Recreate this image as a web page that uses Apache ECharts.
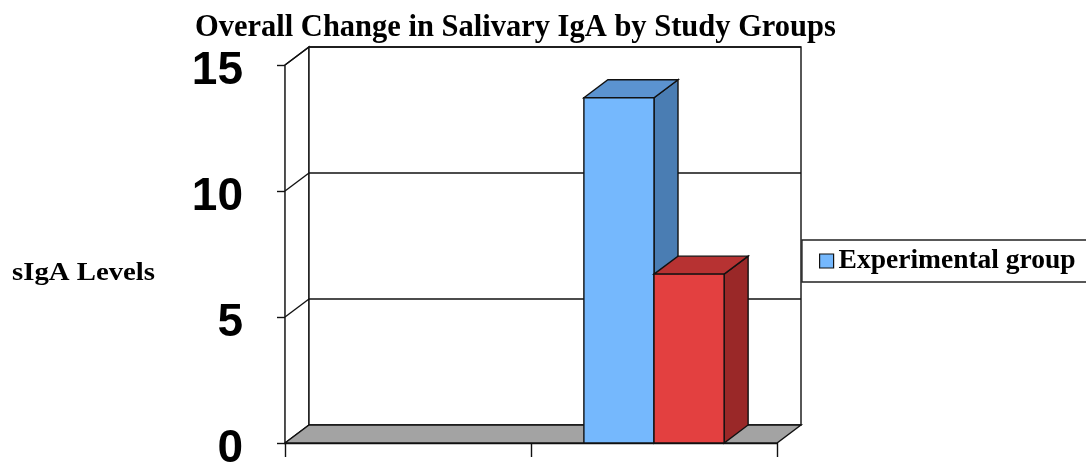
<!DOCTYPE html>
<html lang="en">
<head>
<meta charset="utf-8">
<title>Overall Change in Salivary IgA by Study Groups</title>
<script src="https://cdn.jsdelivr.net/npm/echarts@6/dist/echarts.min.js"></script>
<style>
    html, body { margin: 0; padding: 0; background: #fff; }
    #main { width: 1086px; height: 463px; }
</style>
</head>
<body>
<div id="main"></div>
<script>
// chart data
var categories = ['', ''];
var experimental = [null, 13.7];
var control = [null, 6.7];
var yTicks = [0, 5, 10, 15];

// depth of the fake 3d box (px)
var DX = 24, DY = -18;
var BAR_RATIO = 0.285;

var myChart = echarts.init(document.getElementById('main'));

// walls, floor and back gridlines
function renderFrame(params, api) {
    var cs = params.coordSys;
    var x0 = cs.x, x1 = cs.x + cs.width, yb = cs.y + cs.height;
    var line = { stroke: '#111', lineWidth: 1.4 };
    var kids = [];
    var top = api.coord([0, yTicks[yTicks.length - 1]])[1];
    // left wall
    kids.push({ type: 'polygon', shape: { points: [[x0, top], [x0 + DX, top + DY], [x0 + DX, yb + DY], [x0, yb]] },
        style: { fill: '#fff', stroke: '#111', lineWidth: 1.4 } });
    // back wall
    kids.push({ type: 'rect', shape: { x: x0 + DX, y: top + DY, width: x1 - x0, height: yb - top },
        style: { fill: '#fff', stroke: '#111', lineWidth: 1.4 } });
    yTicks.forEach(function (t) {
        if (t === 0) return;
        var y = api.coord([0, t])[1];
        kids.push({ type: 'line', shape: { x1: x0, y1: y, x2: x0 + DX, y2: y + DY }, style: line });
        kids.push({ type: 'line', shape: { x1: x0 + DX, y1: y + DY, x2: x1 + DX, y2: y + DY }, style: line });
    });
    // floor
    kids.push({ type: 'polygon', shape: { points: [[x0, yb], [x1, yb], [x1 + DX, yb + DY], [x0 + DX, yb + DY]] },
        style: { fill: '#a3a3a3', stroke: '#111', lineWidth: 1.4 } });
    return { type: 'group', children: kids };
}

// 3d column: front face, top, right side
function makeBar(offset, front, topC, side) {
    return function (params, api) {
        var v = api.value(1);
        if (v == null || isNaN(v)) return null;
        var c = api.coord([api.value(0), v]);
        var base = api.coord([api.value(0), 0]);
        var w = api.size([1, 0])[0] * BAR_RATIO;
        var xa = c[0] + offset * w, xb = xa + w;
        var yt = c[1], yb = base[1];
        var st = { stroke: '#111', lineWidth: 1.4 };
        return {
            type: 'group',
            children: [
                { type: 'polygon', shape: { points: [[xb, yt], [xb + DX, yt + DY], [xb + DX, yb + DY], [xb, yb]] },
                    style: echarts.util.extend({ fill: side }, st) },
                { type: 'polygon', shape: { points: [[xa, yt], [xb, yt], [xb + DX, yt + DY], [xa + DX, yt + DY]] },
                    style: echarts.util.extend({ fill: topC }, st) },
                { type: 'rect', shape: { x: xa, y: yt, width: w, height: yb - yt },
                    style: echarts.util.extend({ fill: front }, st) }
            ]
        };
    };
}

var option = {
    animation: false,
    title: {
        text: 'Overall Change in Salivary IgA by Study Groups',
        left: 195,
        top: 13,
        padding: 0,
        textStyle: { fontFamily: 'Liberation Serif', fontWeight: 'bold', fontSize: 30.5, color: '#000' }
    },
    legend: {
        data: [{ name: 'Experimental group', icon: 'rect' }],
        left: 802,
        top: 240,
        padding: [7, 80, 7, 17],
        borderColor: '#222',
        borderWidth: 1.3,
        itemWidth: 14,
        itemHeight: 14,
        itemStyle: { borderColor: '#111', borderWidth: 1.2 },
        textStyle: { fontFamily: 'Liberation Serif', fontWeight: 'bold', fontSize: 27.5, color: '#000' }
    },
    graphic: [{
        type: 'text',
        left: 12,
        top: 261,
        style: { text: 'sIgA Levels', font: 'bold 25px "Liberation Serif"', fill: '#000' },
        scaleX: 1.15
    }],
    grid: { left: 285, right: 309, top: 65, bottom: 20, outerBoundsMode: 'none' },
    xAxis: {
        type: 'category',
        data: categories,
        axisLine: { lineStyle: { color: '#111', width: 1.4 } },
        axisTick: { show: true, length: 14, lineStyle: { color: '#111', width: 1.4 } },
        axisLabel: { show: false },
        splitLine: { show: false }
    },
    yAxis: {
        type: 'value',
        min: 0,
        max: 15,
        interval: 5,
        axisLine: { show: true, lineStyle: { color: '#111', width: 1.4 } },
        axisTick: { show: true, length: 8, lineStyle: { color: '#111', width: 1.4 } },
        axisLabel: {
            margin: 42,
            formatter: '{v|{value}}',
            rich: { v: { padding: [12, 0, 0, 0], fontFamily: 'Liberation Sans', fontWeight: 'bold', fontSize: 46, color: '#000' } }
        },
        splitLine: { show: false }
    },
    series: [
        {
            name: 'frame',
            type: 'custom',
            renderItem: renderFrame,
            data: [[0, 0]],
            clip: false,
            silent: true,
            z: 1
        },
        {
            name: 'Experimental group',
            type: 'custom',
            renderItem: makeBar(-1, '#75b8fd', '#5b93d0', '#4a7db3'),
            data: experimental.map(function (v, i) { return [i, v]; }),
            itemStyle: { color: '#75b8fd' },
            clip: false,
            z: 3
        },
        {
            name: 'Control group',
            type: 'custom',
            renderItem: makeBar(0, '#e34040', '#b73232', '#9a2828'),
            data: control.map(function (v, i) { return [i, v]; }),
            itemStyle: { color: '#e34040' },
            clip: false,
            z: 4
        }
    ]
};

myChart.setOption(option);
</script>
</body>
</html>
